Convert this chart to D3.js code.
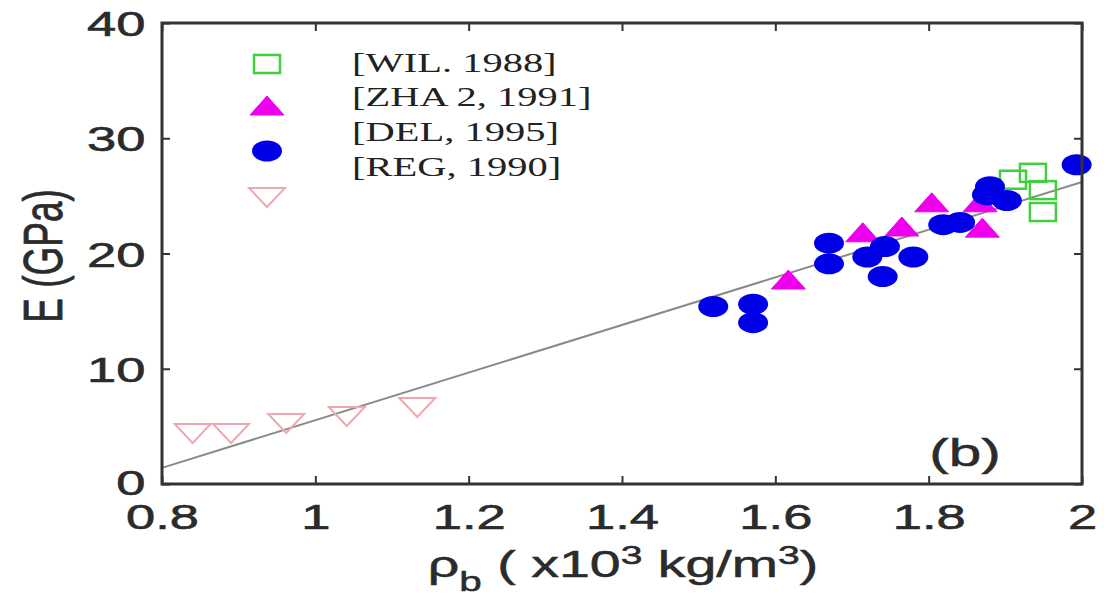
<!DOCTYPE html>
<html><head><meta charset="utf-8">
<script src="https://cdn.jsdelivr.net/npm/d3@7"></script>
<style>html,body{margin:0;padding:0;background:#fff;}svg{display:block;}</style>
</head><body>
<svg id="c" width="1104" height="599"></svg>
<script>
// Data (density x10^3 kg/m^3, E in GPa)
const wilX = [1.910, 1.936, 1.949, 1.949];
const wilY = [26.4, 27.0, 25.5, 23.6];
const zhaX = [1.617, 1.714, 1.765, 1.804, 1.867, 1.870];
const zhaY = [17.7, 21.8, 22.3, 24.4, 24.4, 22.2];
const delX = [1.519, 1.571, 1.571, 1.670, 1.670, 1.720, 1.743, 1.740, 1.780, 1.819, 1.841, 1.880, 1.876, 1.902, 1.993];
const delY = [15.4, 15.6, 14.0, 20.9, 19.1, 19.7, 20.6, 18.0, 19.7, 22.5, 22.7, 25.8, 25.1, 24.6, 27.7];
const regX = [0.840, 0.890, 0.962, 1.041, 1.133];
const regY = [4.43, 4.43, 5.29, 5.9, 6.68];
const fitX = [0.8, 2.0];
const fitY = [1.4, 26.2];
const xTicks = [0.8, 1, 1.2, 1.4, 1.6, 1.8, 2];
const yTicks = [0, 10, 20, 30, 40];
const legendLabels = ["[WIL. 1988]", "[ZHA 2, 1991]", "[DEL, 1995]", "[REG, 1990]"];

const svg = d3.select("#c");
const L = 162, R = 1082, T = 23, B = 484;
const SX = 1.5; // horizontal stretch of the original picture
const x = d3.scaleLinear().domain([0.8, 2]).range([L, R]);
const y = d3.scaleLinear().domain([0, 40]).range([B, T]);
const axisColor = "#333";
const tickFont = "'Liberation Sans', Arial, sans-serif";
const textCol = "#2b2b2b";

// fit line
svg.append("path")
  .datum(fitX.map((v, i) => [v, fitY[i]]))
  .attr("d", d3.line().x(d => x(d[0])).y(d => y(d[1])))
  .attr("stroke", "#8a8a8a").attr("stroke-width", 2).attr("fill", "none");

// marker shapes
function square(g, cx, cy) {
  g.append("rect").attr("x", cx - 13).attr("y", cy - 9).attr("width", 26).attr("height", 18)
    .attr("fill", "none").attr("stroke", "#3fcf3f").attr("stroke-width", 2.5);
}
function triUp(g, cx, cy) {
  g.append("path").attr("d", `M${cx - 17},${cy + 9}L${cx + 17},${cy + 9}L${cx},${cy - 10}Z`)
    .attr("fill", "#ee00ee").attr("stroke", "#ee00ee").attr("stroke-width", 1);
}
function dot(g, cx, cy) {
  g.append("ellipse").attr("cx", cx).attr("cy", cy).attr("rx", 15).attr("ry", 10.5)
    .attr("fill", "#0000e8");
}
function triDown(g, cx, cy) {
  g.append("path").attr("d", `M${cx - 18},${cy - 9}L${cx + 18},${cy - 9}L${cx},${cy + 10}Z`)
    .attr("fill", "none").attr("stroke", "#f0a8b0").attr("stroke-width", 2);
}

const gm = svg.append("g");
wilX.forEach((v, i) => square(gm, x(v), y(wilY[i])));
zhaX.forEach((v, i) => triUp(gm, x(v), y(zhaY[i])));
delX.forEach((v, i) => dot(gm, x(v), y(delY[i])));
regX.forEach((v, i) => triDown(gm, x(v), y(regY[i])));

// axes (box with inward ticks)
const ax = svg.append("g").attr("transform", `translate(0,${B})`)
  .call(d3.axisBottom(x).tickValues(xTicks).tickFormat(d3.format("~g")).tickSizeInner(-8).tickSizeOuter(0).tickPadding(20));
const ay = svg.append("g").attr("transform", `translate(${L},0)`)
  .call(d3.axisLeft(y).tickValues(yTicks).tickSizeInner(-8).tickSizeOuter(0).tickPadding(11));
const axT = svg.append("g").attr("transform", `translate(0,${T})`)
  .call(d3.axisTop(x).tickValues(xTicks).tickFormat("").tickSizeInner(-8).tickSizeOuter(0));
const ayR = svg.append("g").attr("transform", `translate(${R},0)`)
  .call(d3.axisRight(y).tickValues(yTicks).tickFormat("").tickSizeInner(-8).tickSizeOuter(0));
[ax, ay, axT, ayR].forEach(g => {
  g.select(".domain").remove();
  g.selectAll("line").attr("stroke", axisColor).attr("stroke-width", 2);
});
ax.selectAll("text").attr("font-family", tickFont).attr("font-size", 35).attr("fill", textCol)
  .attr("stroke", textCol).attr("stroke-width", 0.6)
  .attr("dy", "0.35em").attr("y", 33).attr("transform", `scale(${SX},1)`);
ay.selectAll("text").attr("font-family", tickFont).attr("font-size", 35).attr("fill", textCol)
  .attr("stroke", textCol).attr("stroke-width", 0.6)
  .attr("dy", d => d === 0 ? "0.3em" : "0.36em").attr("transform", `scale(${SX},1)`);
svg.append("rect").attr("x", L).attr("y", T).attr("width", R - L).attr("height", B - T)
  .attr("fill", "none").attr("stroke", axisColor).attr("stroke-width", 3);

// axis labels
svg.append("text").attr("transform", `translate(43,256) scale(${SX},1) rotate(-90)`)
  .attr("text-anchor", "middle").attr("dy", "0.35em")
  .attr("font-family", tickFont).attr("font-size", 37).attr("fill", textCol)
  .attr("stroke", textCol).attr("stroke-width", 0.5).text("E (GPa)");

const xl = svg.append("text").attr("transform", `translate(623,577) scale(${SX},1)`)
  .attr("text-anchor", "middle").attr("font-family", tickFont).attr("font-size", 37).attr("fill", textCol)
  .attr("stroke", textCol).attr("stroke-width", 0.5);
xl.append("tspan").text("ρ");
xl.append("tspan").attr("dy", 14).attr("font-size", 27).text("b");
xl.append("tspan").attr("dy", -14).text(" ( x10");
xl.append("tspan").attr("dy", -13).attr("font-size", 26).text("3");
xl.append("tspan").attr("dy", 13).text(" kg/m");
xl.append("tspan").attr("dy", -13).attr("font-size", 26).text("3");
xl.append("tspan").attr("dy", 13).text(")");

svg.append("text").attr("transform", `translate(965,466) scale(${SX},1)`)
  .attr("text-anchor", "middle").attr("font-family", tickFont).attr("font-size", 39).attr("fill", textCol)
  .attr("stroke", textCol).attr("stroke-width", 0.5).text("(b)");

// legend
const legSymY = [64, 106, 151, 197];
const legTxtY = [72, 106, 141, 176];
const legFns = [square, triUp, dot, triDown];
const lg = svg.append("g");
legendLabels.forEach((lab, i) => {
  legFns[i](lg, 267, legSymY[i]);
  lg.append("text").attr("transform", `translate(352,${legTxtY[i]}) scale(${SX},1)`)
    .attr("font-family", "'Liberation Serif', 'Times New Roman', serif").attr("font-size", 27)
    .attr("fill", "#222").text(lab);
});
</script>
</body></html>
